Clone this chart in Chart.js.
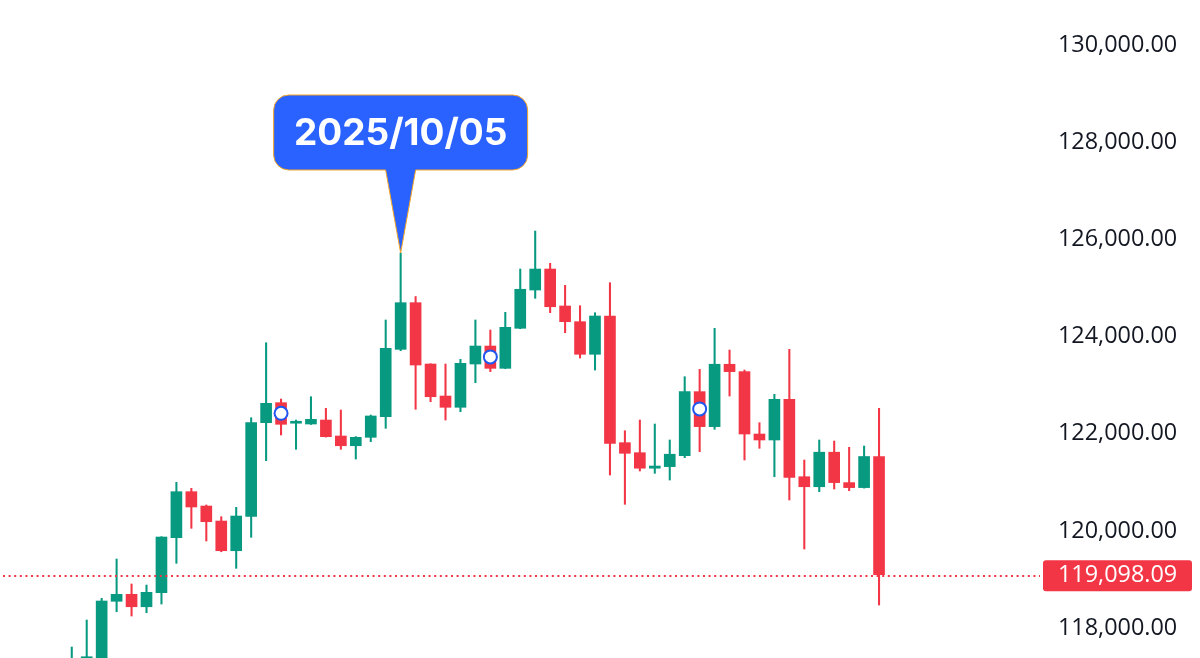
<!DOCTYPE html>
<html lang="zh">
<head>
<meta charset="UTF-8">
<meta name="viewport" content="width=device-width, initial-scale=1.0">
<title>BTC 4h</title>
<script src="https://cdn.jsdelivr.net/npm/chart.js"></script>
<style>
    html, body { margin: 0; padding: 0; background: #ffffff; }
    .grafico-wrap { position: relative; width: 1200px; height: 658px; }
</style>
</head>
<body>
<div class="grafico-wrap">
    <canvas id="grafico"></canvas>
</div>

<script>
// 4h candles
const times = [
    '2025/10/02 00:00', '2025/10/02 04:00', '2025/10/02 08:00', '2025/10/02 12:00', '2025/10/02 16:00', '2025/10/02 20:00',
    '2025/10/03 00:00', '2025/10/03 04:00', '2025/10/03 08:00', '2025/10/03 12:00', '2025/10/03 16:00', '2025/10/03 20:00',
    '2025/10/04 00:00', '2025/10/04 04:00', '2025/10/04 08:00', '2025/10/04 12:00', '2025/10/04 16:00', '2025/10/04 20:00',
    '2025/10/05 00:00', '2025/10/05 04:00', '2025/10/05 08:00', '2025/10/05 12:00', '2025/10/05 16:00', '2025/10/05 20:00',
    '2025/10/06 00:00', '2025/10/06 04:00', '2025/10/06 08:00', '2025/10/06 12:00', '2025/10/06 16:00', '2025/10/06 20:00',
    '2025/10/07 00:00', '2025/10/07 04:00', '2025/10/07 08:00', '2025/10/07 12:00', '2025/10/07 16:00', '2025/10/07 20:00',
    '2025/10/08 00:00', '2025/10/08 04:00', '2025/10/08 08:00', '2025/10/08 12:00', '2025/10/08 16:00', '2025/10/08 20:00',
    '2025/10/09 00:00', '2025/10/09 04:00', '2025/10/09 08:00', '2025/10/09 12:00', '2025/10/09 16:00', '2025/10/09 20:00',
    '2025/10/10 00:00', '2025/10/10 04:00', '2025/10/10 08:00', '2025/10/10 12:00', '2025/10/10 16:00', '2025/10/10 20:00',
    '2025/10/11 00:00'
];
const opens = [
    117100, 117100, 117350, 118550, 118694, 118438, 118727, 119859, 120806, 120511,
    120202, 119591, 120299, 122226, 122638, 122215, 122199, 122281, 121952, 121752,
    121925, 122350, 123736, 124696, 123434, 122775, 122543, 123434, 123804, 123345,
    124169, 124957, 125389, 124628, 124305, 123634, 124422, 121815, 121609, 121289,
    121322, 121547, 122865, 122145, 123429, 123277, 121993, 121870, 122707, 121114,
    120908, 121619, 120993, 120890, 121530
];
const highs = [
    117609, 118165, 118611, 119420, 118906, 118885, 119880, 120999, 120875, 120532,
    120291, 120484, 122329, 123872, 122713, 122281, 122761, 122522, 122487, 121940,
    122384, 124340, 125719, 124823, 123440, 123434, 123530, 124340, 124134, 124498,
    125389, 126171, 125507, 125054, 124634, 124490, 125107, 122061, 122281, 122199,
    121870, 123173, 123325, 124169, 123722, 123310, 122226, 122810, 123736, 121458,
    121870, 121849, 121719, 121746, 122522
];
const lows = [
    116900, 117000, 117300, 118335, 118247, 118315, 118494, 119332, 120052, 119791,
    119570, 119229, 119867, 121444, 121973, 121678, 122190, 121930, 121678, 121479,
    121835, 122110, 123708, 122502, 122658, 122281, 122452, 123049, 123277, 123340,
    124160, 124786, 124490, 124078, 123557, 123310, 121149, 120546, 121232, 121184,
    121046, 121506, 121629, 122090, 122775, 121458, 121699, 121114, 120635, 119626,
    120806, 120861, 120826, 120880, 118473
];
const closes = [
    117300, 117409, 118556, 118694, 118438, 118735, 119873, 120806, 120491, 120188,
    119591, 120305, 122226, 122625, 122193, 122240, 122296, 121938, 121752, 121925,
    122364, 123757, 124696, 123413, 122761, 122543, 123448, 123804, 123345, 124189,
    124972, 125389, 124613, 124305, 123634, 124422, 121802, 121596, 121289, 121334,
    121577, 122865, 122145, 123429, 123277, 121993, 121870, 122707, 121102, 120908,
    121619, 120993, 120890, 121530, 119098.09
];
const yTicks = [118000, 120000, 122000, 124000, 126000, 128000, 130000];
const markerIdx = [14, 28, 42];
const markerVals = [122420, 123580, 122510];
const calloutIdx = 22;
const lastPrice = closes[closes.length - 1];

const UP = '#089981';
const DOWN = '#F23645';
const candleColors = opens.map((o, i) => closes[i] >= o ? UP : DOWN);

const fmt = v => v.toLocaleString('en-US', { minimumFractionDigits: 2, maximumFractionDigits: 2 });

// dotted last-price line + red price tag on the axis
const priceLine = {
    id: 'priceLine',
    afterDatasetsDraw(chart) {
        const ctx = chart.ctx;
        const area = chart.chartArea;
        const y = Math.round(chart.scales.y.getPixelForValue(lastPrice)) + 1;
        ctx.save();
        ctx.strokeStyle = DOWN;
        ctx.lineWidth = 2;
        ctx.setLineDash([2, 3.6]);
        ctx.beginPath();
        ctx.moveTo(3, y);
        ctx.lineTo(area.right - 2, y);
        ctx.stroke();
        ctx.restore();
    },
    afterDraw(chart) {
        const ctx = chart.ctx;
        const area = chart.chartArea;
        const y = chart.scales.y.getPixelForValue(lastPrice) + 1;
        const left = area.right + 1, right = 1192, h = 31;
        ctx.save();
        ctx.fillStyle = DOWN;
        ctx.beginPath();
        ctx.roundRect(left, y - h / 2, right - left, h, 3);
        ctx.fill();
        ctx.fillStyle = '#ffffff';
        ctx.font = '23.4px "Open Sans"';
        ctx.textAlign = 'left';
        ctx.textBaseline = 'middle';
        ctx.fillText(fmt(lastPrice), 1058, y);
        ctx.restore();
    }
};

// blue date bubble pointing at the high of the marked candle
const callout = {
    id: 'callout',
    afterDraw(chart) {
        const ctx = chart.ctx;
        const x = chart.scales.x.getPixelForValue(calloutIdx);
        const y = chart.scales.y.getPixelForValue(highs[calloutIdx]);
        const w = 254, h = 75, r = 15;
        const left = x - w / 2, right = x + w / 2;
        const bottom = y - 83, top = bottom - h;
        ctx.save();
        ctx.beginPath();
        ctx.moveTo(left + r, top);
        ctx.lineTo(right - r, top);
        ctx.arcTo(right, top, right, top + r, r);
        ctx.lineTo(right, bottom - r);
        ctx.arcTo(right, bottom, right - r, bottom, r);
        ctx.lineTo(x + 15, bottom);
        ctx.lineTo(x, y);
        ctx.lineTo(x - 15, bottom);
        ctx.lineTo(left + r, bottom);
        ctx.arcTo(left, bottom, left, bottom - r, r);
        ctx.lineTo(left, top + r);
        ctx.arcTo(left, top, left + r, top, r);
        ctx.closePath();
        ctx.fillStyle = '#2962FF';
        ctx.fill();
        ctx.strokeStyle = '#F5A623';
        ctx.lineWidth = 1;
        ctx.stroke();
        ctx.fillStyle = '#ffffff';
        ctx.font = 'bold 37px Inter';
        ctx.textAlign = 'center';
        ctx.textBaseline = 'middle';
        ctx.fillText(times[calloutIdx].slice(0, 10), x, top + h / 2 + 1);
        ctx.restore();
    }
};

const ctx = document.getElementById('grafico').getContext('2d');
new Chart(ctx, {
    type: 'bar',
    data: {
        datasets: [
            {
                type: 'scatter',
                data: markerIdx.map((i, k) => ({ x: i, y: markerVals[k] })),
                pointRadius: 6.5,
                pointBorderWidth: 2,
                pointBorderColor: '#2156F0',
                pointBackgroundColor: '#ffffff',
                order: 0
            },
            {
                label: 'body',
                data: opens.map((o, i) => ({ x: i, y: [o, closes[i]] })),
                backgroundColor: candleColors,
                barThickness: 11,
                minBarLength: 2,
                grouped: false,
                order: 1
            },
            {
                label: 'wick',
                data: lows.map((l, i) => ({ x: i, y: [l, highs[i]] })),
                backgroundColor: candleColors,
                barThickness: 1.4,
                grouped: false,
                order: 2
            }
        ]
    },
    options: {
        responsive: true,
        maintainAspectRatio: false,
        animation: false,
        layout: { padding: 0, autoPadding: false },
        plugins: {
            legend: { display: false },
            tooltip: { enabled: false }
        },
        scales: {
            x: {
                type: 'linear',
                display: false,
                offset: false,
                min: -4.8,
                max: 64.9
            },
            y: {
                position: 'right',
                min: 117383,
                max: 130926,
                grid: { display: false, drawTicks: false },
                border: { display: false },
                afterFit(scale) {
                    scale.width = 158;
                    scale.paddingTop = 0;
                    scale.paddingBottom = 0;
                },
                afterBuildTicks(scale) { scale.ticks = yTicks.map(v => ({ value: v })); },
                ticks: {
                    padding: 16,
                    color: '#131722',
                    font: { family: 'Open Sans', size: 23.4 },
                    callback: v => fmt(v)
                }
            }
        }
    },
    plugins: [priceLine, callout]
});
</script>
</body>
</html>
